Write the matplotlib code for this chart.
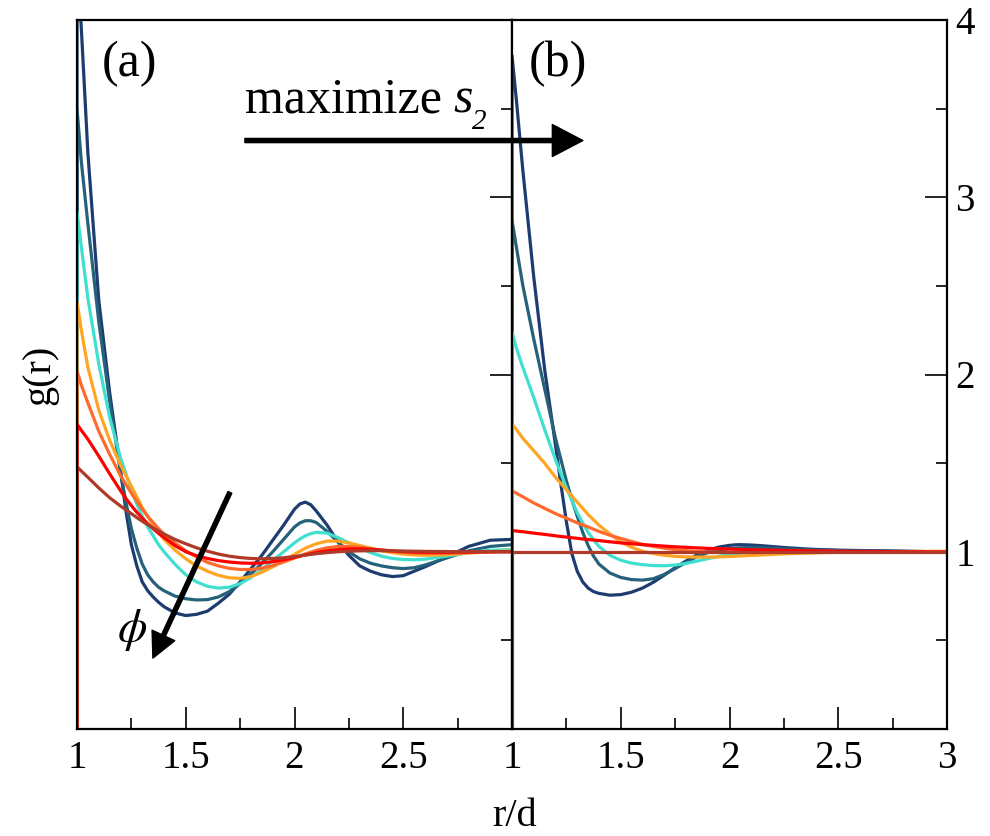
import matplotlib
matplotlib.use("Agg")
import matplotlib.pyplot as plt

plt.rcParams['font.family'] = ['Liberation Serif', 'DejaVu Serif']
plt.rcParams['mathtext.fontset'] = 'custom'
plt.rcParams['mathtext.rm'] = 'Liberation Serif'
plt.rcParams['mathtext.it'] = 'Liberation Serif:italic'

# shared r/d grid (first point repeated: g=0 inside the core)
r = [1.0, 1.0, 1.02, 1.05, 1.1, 1.15,
     1.2, 1.225, 1.25, 1.275, 1.3, 1.325, 1.35, 1.375, 1.4,
     1.45, 1.5, 1.55, 1.6, 1.65, 1.7, 1.75, 1.8, 1.85, 1.9, 1.95,
     2.0, 2.025, 2.05, 2.075, 2.1,
     2.15, 2.2, 2.25, 2.3, 2.35, 2.4, 2.45, 2.5, 2.55, 2.6,
     2.7, 2.8, 2.9, 3.0]

colors = ['#1d3d70', '#25617a', '#40e0d0', '#ffa524', '#ff6a2c', '#ff0000', '#b03a2a']

# panel (a)
g_a_navy = [0, 4.35, 3.95, 3.25, 2.42, 1.9,
            1.46, 1.23, 1.04, 0.92, 0.83, 0.78, 0.745, 0.715, 0.69,
            0.655, 0.64, 0.647, 0.665, 0.71, 0.76, 0.83, 0.905, 0.98, 1.065, 1.15,
            1.24, 1.27, 1.28, 1.265, 1.23,
            1.15, 1.055, 0.98, 0.92, 0.89, 0.87, 0.86, 0.865, 0.89, 0.915,
            0.97, 1.03, 1.065, 1.07]
g_a_teal = [0, 3.5, 3.2, 2.85, 2.3, 1.85,
            1.45, 1.28, 1.13, 1.02, 0.93, 0.87, 0.83, 0.80, 0.78,
            0.75, 0.735, 0.728, 0.73, 0.745, 0.775, 0.82, 0.875, 0.935, 1.0, 1.07,
            1.14, 1.163, 1.175, 1.175, 1.165,
            1.115, 1.055, 1.0, 0.96, 0.935, 0.92, 0.91, 0.905, 0.91, 0.925,
            0.965, 1.005, 1.03, 1.04]
g_a_turq = [0, 2.92, 2.72, 2.43, 2.06, 1.76,
            1.53, 1.44, 1.35, 1.27, 1.2, 1.14, 1.09, 1.04, 1.0,
            0.93, 0.87, 0.83, 0.805, 0.795, 0.8, 0.82, 0.855, 0.9, 0.95, 1.0,
            1.05, 1.072, 1.09, 1.102, 1.11,
            1.105, 1.08, 1.05, 1.02, 0.995, 0.975, 0.962, 0.956, 0.955, 0.958,
            0.975, 0.995, 1.008, 1.012]
g_a_orange = [0, 2.41, 2.25, 2.04, 1.8, 1.63,
              1.49, 1.43, 1.37, 1.31, 1.25, 1.2, 1.15, 1.11, 1.07,
              1.01, 0.96, 0.92, 0.89, 0.867, 0.853, 0.85, 0.86, 0.885, 0.915, 0.95,
              0.985, 1.003, 1.02, 1.033, 1.045,
              1.06, 1.06, 1.05, 1.035, 1.02, 1.005, 0.995, 0.987, 0.982, 0.98,
              0.983, 0.993, 1.0, 1.005]
g_a_orred = [0, 2.02, 1.94, 1.84, 1.68, 1.55,
             1.43, 1.38, 1.33, 1.285, 1.24, 1.2, 1.165, 1.13, 1.1,
             1.05, 1.005, 0.97, 0.94, 0.92, 0.906, 0.9, 0.9, 0.908, 0.922, 0.942,
             0.965, 0.977, 0.988, 0.998, 1.008,
             1.022, 1.03, 1.03, 1.025, 1.017, 1.009, 1.002, 0.997, 0.993, 0.991,
             0.991, 0.995, 0.999, 1.001]
g_a_red = [0, 1.72, 1.685, 1.635, 1.54, 1.44,
           1.345, 1.3, 1.26, 1.223, 1.19, 1.158, 1.13, 1.104, 1.08,
           1.035, 1.0, 0.978, 0.962, 0.95, 0.942, 0.937, 0.935, 0.937, 0.944, 0.955,
           0.968, 0.975, 0.982, 0.989, 0.995,
           1.005, 1.012, 1.016, 1.016, 1.014, 1.01, 1.005, 1.001, 0.998, 0.997,
           0.997, 0.998, 1.0, 1.0]
g_a_brown = [0, 1.48, 1.455, 1.42, 1.36, 1.305,
             1.258, 1.236, 1.215, 1.193, 1.172, 1.153, 1.135, 1.117, 1.1,
             1.07, 1.045, 1.022, 1.003, 0.987, 0.975, 0.967, 0.962, 0.96, 0.962, 0.966,
             0.973, 0.977, 0.981, 0.985, 0.989,
             0.995, 1.0, 1.003, 1.005, 1.006, 1.006, 1.005, 1.004, 1.003, 1.002,
             1.001, 1.0, 1.0, 1.0]

# panel (b)
g_b_navy = [0, 3.8, 3.55, 3.15, 2.55, 2.03,
            1.6, 1.38, 1.17, 0.99, 0.89, 0.83, 0.795, 0.775, 0.765,
            0.755, 0.758, 0.772, 0.795, 0.828, 0.868, 0.91, 0.948, 0.982, 1.008, 1.026,
            1.036, 1.039, 1.04, 1.039, 1.038,
            1.034, 1.029, 1.024, 1.02, 1.016, 1.013, 1.011, 1.009, 1.008, 1.007,
            1.005, 1.003, 1.001, 1.0]
g_b_teal = [0, 2.87, 2.72, 2.5, 2.2, 1.92,
            1.64, 1.52, 1.4, 1.295, 1.2, 1.11, 1.035, 0.975, 0.93,
            0.88, 0.855, 0.843, 0.84, 0.848, 0.872, 0.905, 0.94, 0.972, 0.995, 1.01,
            1.018, 1.02, 1.022, 1.023, 1.023,
            1.022, 1.02, 1.017, 1.014, 1.012, 1.01, 1.008, 1.007, 1.006, 1.005,
            1.004, 1.002, 1.001, 1.0]
g_b_turq = [0, 2.24, 2.15, 2.04, 1.87, 1.69,
            1.52, 1.44, 1.36, 1.29, 1.22, 1.163, 1.11, 1.067, 1.03,
            0.98, 0.952, 0.936, 0.927, 0.922, 0.921, 0.925, 0.934, 0.947, 0.961, 0.974,
            0.985, 0.989, 0.992, 0.995, 0.997,
            1.0, 1.002, 1.003, 1.003, 1.003, 1.002, 1.002, 1.001, 1.001, 1.0,
            1.0, 1.0, 1.0, 1.0]
g_b_orange = [0, 1.72, 1.69, 1.64, 1.57, 1.5,
              1.42, 1.385, 1.35, 1.315, 1.28, 1.245, 1.21, 1.18, 1.15,
              1.1, 1.055, 1.025, 1.003, 0.99, 0.98, 0.974, 0.971, 0.97, 0.97, 0.971,
              0.973, 0.9745, 0.976, 0.9775, 0.979,
              0.982, 0.985, 0.988, 0.99, 0.992, 0.994, 0.996, 0.997, 0.998, 0.999,
              1.0, 1.001, 1.002, 1.003]
g_b_orred = [0, 1.345, 1.33, 1.31, 1.275, 1.245,
             1.215, 1.202, 1.19, 1.176, 1.163, 1.151, 1.14, 1.127, 1.115,
             1.093, 1.075, 1.058, 1.042, 1.03, 1.02, 1.012, 1.006, 1.002, 0.999, 0.997,
             0.996, 0.996, 0.996, 0.996, 0.996,
             0.997, 0.997, 0.998, 0.998, 0.999, 0.999, 1.0, 1.0, 1.0, 1.0,
             1.0, 1.0, 1.0, 1.0]
g_b_red = [0, 1.12, 1.117, 1.113, 1.105, 1.098,
           1.09, 1.086, 1.083, 1.079, 1.076, 1.072, 1.069, 1.066, 1.063,
           1.056, 1.05, 1.045, 1.04, 1.036, 1.032, 1.028, 1.025, 1.022, 1.019, 1.017,
           1.015, 1.014, 1.013, 1.012, 1.011,
           1.01, 1.009, 1.008, 1.007, 1.006, 1.005, 1.004, 1.003, 1.002, 1.002,
           1.001, 1.0, 0.999, 0.998]
g_b_brown = [0] + [1.0] * 44

series_a = [g_a_navy, g_a_teal, g_a_turq, g_a_orange, g_a_orred, g_a_red, g_a_brown]
series_b = [g_b_navy, g_b_teal, g_b_turq, g_b_orange, g_b_orred, g_b_red, g_b_brown]

fig = plt.figure(figsize=(9.9, 8.36), dpi=100)
W, H = 990, 836
ax_a = fig.add_axes([77 / W, (H - 729) / H, 435 / W, 709 / H])
ax_b = fig.add_axes([512 / W, (H - 729) / H, 435 / W, 709 / H])

for ax, series in [(ax_a, series_a), (ax_b, series_b)]:
    for g, c in zip(series, colors):
        ax.plot(r, g, color=c, lw=2.3, solid_joinstyle='round', solid_capstyle='butt')
    ax.set_xlim(1, 3)
    ax.set_ylim(0, 4)
    for s in ax.spines.values():
        s.set_linewidth(1.6)
    ax.set_xticks([1, 1.5, 2, 2.5, 3])
    ax.set_xticks([1.25, 1.75, 2.25, 2.75], minor=True)
    ax.set_yticks([1, 2, 3, 4])
    ax.set_yticks([0.5, 1.5, 2.5, 3.5], minor=True)
    ax.yaxis.set_ticks_position('right')
    ax.tick_params(which='both', direction='in', width=1.2, labelsize=28, pad=8)
    ax.tick_params(which='major', length=16)
    ax.tick_params(which='minor', length=8)

ax_a.set_xticklabels(['1', '1.5', '2', '2.5', ''])
ax_b.set_xticklabels(['1', '1.5', '2', '2.5', '3'])
ax_b.set_yticklabels(['1', '2', '3', '4'])
ax_a.tick_params(axis='y', labelright=False)
ax_b.tick_params(axis='y', pad=6)

fig.text(40 / W, (H - 375) / H, 'g(r)', rotation=90, ha='center', va='center', fontsize=29)
fig.text(515 / W, (H - 826) / H, 'r/d', ha='center', va='baseline', fontsize=29)

ax_a.text(1.115, 3.75, '(a)', fontsize=36, ha='left', va='center')
ax_b.text(1.078, 3.75, '(b)', fontsize=36, ha='left', va='center')

ax_a.text(1.772, 3.476, 'maximize', fontsize=36, ha='left', va='baseline')
ax_a.text(2.73, 3.476, 's', fontsize=36, style='italic', ha='left', va='baseline')
ax_a.text(2.815, 3.386, '2', fontsize=21, style='italic', ha='left', va='baseline')
# arrow belongs to panel (b) so it is drawn over both panels
ax_b.annotate('', xy=(1.326, 3.32), xycoords='data',
              xytext=(1.772, 3.32), textcoords=ax_a.transData,
              arrowprops=dict(facecolor='black', edgecolor='black', width=3,
                              headwidth=23, headlength=22, shrink=0),
              annotation_clip=False)

ax_a.annotate('', xy=(1.349, 0.40), xytext=(1.703, 1.335),
              arrowprops=dict(facecolor='black', edgecolor='black', width=3,
                              headwidth=18, headlength=18, shrink=0))
ax_a.text(1.253, 0.558, r'$\phi$', fontsize=34, ha='center', va='center',
          math_fontfamily='stix')

fig.savefig('out.png', dpi=100)
